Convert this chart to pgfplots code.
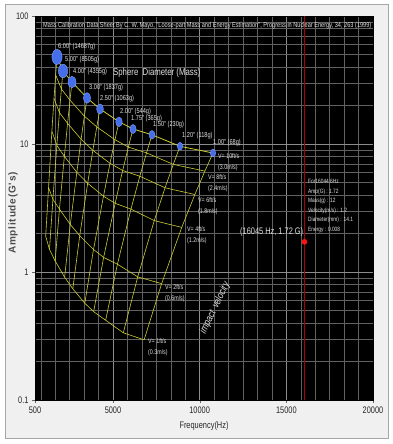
\documentclass[border=0pt]{standalone}
\usepackage{pgfplots}
\pgfplotsset{compat=1.18}
\usepackage{fontspec}
\setmainfont{Liberation Sans}
\newfontfamily\nar[FakeStretch=0.78]{Liberation Sans}
\newfontfamily\ylab[LetterSpace=8]{Liberation Sans}
\definecolor{mesh}{RGB}{205,205,50}
\definecolor{ball}{RGB}{70,110,235}
\definecolor{ballrim}{RGB}{120,160,255}
\definecolor{panel}{RGB}{240,240,240}
\definecolor{txt}{RGB}{225,225,225}
\begin{document}
\begin{tikzpicture}[x=1pt,y=1pt]
\fill[white] (0,0) rectangle (393,444);
\filldraw[fill=panel,draw=black!35] (5,6) rectangle (388,440);
\begin{axis}[
  at={(35pt,44pt)}, anchor=south west,
  scale only axis, width=338pt, height=384pt,
  xmin=500, xmax=20000, ymode=log, ymin=0.1, ymax=100,
  axis background/.style={fill=black},
  axis line style={black},
  scaled x ticks=false,
  xtick={500,5000,10000,15000,20000},
  xticklabels={500,5000,10000,15000,20000},
  ytick={0.1,1,10,100},
  yticklabels={0.1,1,10,100},
  minor xtick={833.3,1666.7,2500,3333.3,4166.7,5833.3,6666.7,7500,8333.3,9166.7,10833.3,11666.7,12500,13333.3,14166.7,15833.3,16666.7,17500,18333.3,19166.7},
  grid=both,
  major grid style={white!55!black, line width=0.5pt},
  minor grid style={white!38!black, line width=0.5pt},
  tick align=outside, major tick length=3pt, minor tick length=0pt,
  tick pos=left,
  major tick style={black!60},
  ticklabel style={font=\nar\fontsize{9.5}{10}\selectfont, text=black!85},
  /pgf/number format/assume math mode=true,
]
% constant-velocity curves
\addplot[color=mesh, line width=0.8pt] coordinates {(1769,47.9)(2115,37.2)(2635,30.5)(3500,22.9)(4250,18.8)(5346,14.9)(6154,13.1)(7250,11.8)(8865,9.6)(10769,8.5)};
\addplot[color=mesh, line width=0.6pt] coordinates {(1692,34.6)(2023,26.9)(2520,22.0)(3347,16.5)(4065,13.6)(5113,10.8)(5886,9.46)(6934,8.52)(8478,6.93)(10300,6.14)};
\addplot[color=mesh, line width=0.6pt] coordinates {(1597,22.7)(1910,17.6)(2379,14.5)(3160,10.9)(3837,8.92)(4827,7.07)(5557,6.21)(6546,5.60)(8004,4.55)(9723,4.03)};
\addplot[color=mesh, line width=0.6pt] coordinates {(1473,12.6)(1761,9.76)(2194,8.00)(2914,6.01)(3539,4.93)(4451,3.91)(5124,3.44)(6036,3.10)(7381,2.52)(8966,2.23)};
\addplot[color=mesh, line width=0.6pt] coordinates {(1282,4.57)(1533,3.7)(1910,3.1)(2537,2.35)(3080,1.92)(3875,1.5)(4460,1.3)(5255,1.15)(6425,0.916)(7805,0.811)};
\addplot[color=mesh, line width=0.6pt] coordinates {(1116,1.9)(1335,1.5)(1663,1.22)(2209,0.91)(2682,0.74)(3373,0.57)(3883,0.49)(4575,0.42)(5594,0.335)(6795,0.295)};
% constant-diameter lines
\addplot[color=mesh, line width=0.6pt] coordinates {(1769,47.9)(1692,34.6)(1597,22.7)(1473,12.6)(1282,4.57)(1116,1.9)};
\addplot[color=mesh, line width=0.6pt] coordinates {(2115,37.2)(2023,26.9)(1910,17.6)(1761,9.76)(1533,3.7)(1335,1.5)};
\addplot[color=mesh, line width=0.6pt] coordinates {(2635,30.5)(2520,22.0)(2379,14.5)(2194,8.00)(1910,3.1)(1663,1.22)};
\addplot[color=mesh, line width=0.6pt] coordinates {(3500,22.9)(3347,16.5)(3160,10.9)(2914,6.01)(2537,2.35)(2209,0.91)};
\addplot[color=mesh, line width=0.6pt] coordinates {(4250,18.8)(4065,13.6)(3837,8.92)(3539,4.93)(3080,1.92)(2682,0.74)};
\addplot[color=mesh, line width=0.6pt] coordinates {(5346,14.9)(5113,10.8)(4827,7.07)(4451,3.91)(3875,1.5)(3373,0.57)};
\addplot[color=mesh, line width=0.6pt] coordinates {(6154,13.1)(5886,9.46)(5557,6.21)(5124,3.44)(4460,1.3)(3883,0.49)};
\addplot[color=mesh, line width=0.6pt] coordinates {(7250,11.8)(6934,8.52)(6546,5.60)(6036,3.10)(5255,1.15)(4575,0.42)};
\addplot[color=mesh, line width=0.6pt] coordinates {(8865,9.6)(8478,6.93)(8004,4.55)(7381,2.52)(6425,0.916)(5594,0.335)};
\addplot[color=mesh, line width=0.6pt] coordinates {(10769,8.5)(10300,6.14)(9723,4.03)(8966,2.23)(7805,0.811)(6795,0.295)};
% sphere markers (V = 10 ft/s)
\addplot[only marks, mark=*, mark size=7.5pt, mark options={fill=ball, draw=ballrim, xscale=0.68}] coordinates {(1769,47.9)};
\addplot[only marks, mark=*, mark size=6.8pt, mark options={fill=ball, draw=ballrim, xscale=0.68}] coordinates {(2115,37.2)};
\addplot[only marks, mark=*, mark size=5.8pt, mark options={fill=ball, draw=ballrim, xscale=0.68}] coordinates {(2635,30.5)};
\addplot[only marks, mark=*, mark size=5.3pt, mark options={fill=ball, draw=ballrim, xscale=0.68}] coordinates {(3500,22.9)};
\addplot[only marks, mark=*, mark size=5pt, mark options={fill=ball, draw=ballrim, xscale=0.68}] coordinates {(4250,18.8)};
\addplot[only marks, mark=*, mark size=4.8pt, mark options={fill=ball, draw=ballrim, xscale=0.68}] coordinates {(5346,14.9)};
\addplot[only marks, mark=*, mark size=4.5pt, mark options={fill=ball, draw=ballrim, xscale=0.68}] coordinates {(6154,13.1)};
\addplot[only marks, mark=*, mark size=4.3pt, mark options={fill=ball, draw=ballrim, xscale=0.68}] coordinates {(7250,11.8)};
\addplot[only marks, mark=*, mark size=3.9pt, mark options={fill=ball, draw=ballrim, xscale=0.68}] coordinates {(8865,9.6)};
\addplot[only marks, mark=*, mark size=3.9pt, mark options={fill=ball, draw=ballrim, xscale=0.68}] coordinates {(10769,8.5)};
% cursor
\addplot[color={rgb,255:red,170;green,0;blue,0}, line width=0.6pt] coordinates {(16045,0.1)(16045,100)};
\addplot[only marks, mark=*, mark size=2.6pt, color={rgb,255:red,255;green,20;blue,20}] coordinates {(16045,1.72)};
\end{axis}
% texts (page coordinates, y = 444 - pixel row)
\begin{scope}[every node/.style={inner sep=0pt, text=txt}]
\node[anchor=west, font=\nar\fontsize{7.2}{8}\selectfont] at (43,418) {Mass Calibration Data Sheet By C. W. Mayo, "Loose-part Mass and Energy Estimation", Progress in Nuclear Energy, 34, 263 (1999)};
\node[anchor=west, font=\nar\fontsize{10}{11}\selectfont] at (113,371) {Sphere\ \ Diameter (Mass)};
\begin{scope}[every node/.append style={anchor=west, font=\nar\fontsize{7.2}{8}\selectfont}]
\node at (58,397) {6.00" (14687g)};
\node at (65,384) {5.00" (8505g)};
\node at (73,372) {4.00" (4355g)};
\node at (89,356) {3.00" (1837g)};
\node at (100,345) {2.50" (1063g)};
\node at (120,332) {2.00" (544g)};
\node at (131,325) {1.75" (365g)};
\node at (153,319) {1.50" (230g)};
\node at (182,308) {1.20" (118g)};
\node at (213,301) {1.00" (68g)};
\end{scope}
\begin{scope}[every node/.append style={anchor=west, align=left, font=\nar\fontsize{6.8}{11}\selectfont}]
\node at (218,281.5) {V= 10ft/s\\(3.0m/s)};
\node at (208,260.5) {V= 8ft/s\\(2.4m/s)};
\node at (198,237.5) {V= 6ft/s\\(1.8m/s)};
\node at (187,208.5) {V= 4ft/s\\(1.2m/s)};
\node at (165,150.5) {V= 2ft/s\\(0.6m/s)};
\node at (148,96.5) {V= 1ft/s\\(0.3m/s)};
\end{scope}
\node[anchor=west, font=\nar\fontsize{9.5}{10}\selectfont] at (240,212) {(16045 Hz, 1.72 G)};
\node[anchor=north west, align=left, font=\nar\fontsize{6.2}{9.6}\selectfont] at (308,265) {For16044.6Hz\\Amp(G) : 1.72\\Mass(g) : 12\\Velocity(m/s) : 1.2\\Diameter(mm) : 14.1\\Energy : 0.008};
\node[rotate=64, font=\nar\itshape\fontsize{10.5}{12}\selectfont] at (215,136) {impact\hspace{4pt}velocity};
\end{scope}
\node[rotate=90, font=\ylab\bfseries\fontsize{10}{11}\selectfont, text=black!70] at (13,231) {Amplitude(G's)};
\node[font=\nar\fontsize{9.5}{10}\selectfont, text=black!85] at (204,18) {Frequency(Hz)};
\end{tikzpicture}
\end{document}
